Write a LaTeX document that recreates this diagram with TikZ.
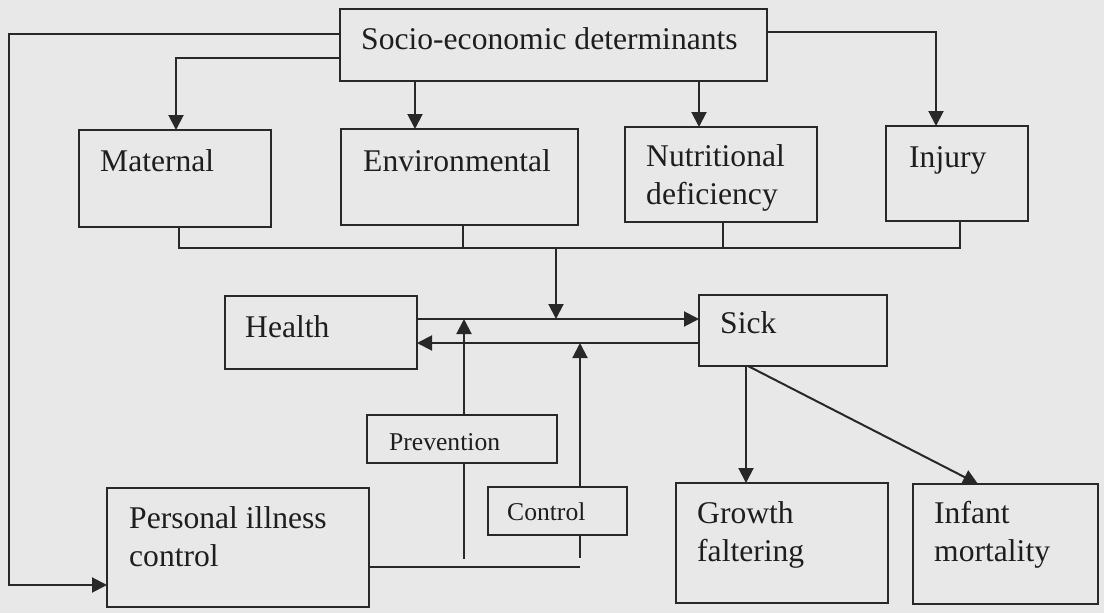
\documentclass[tikz,border=0pt]{standalone}
\usepackage{fontspec}
\setmainfont{Liberation Serif}
\usetikzlibrary{arrows.meta}
\definecolor{bgc}{RGB}{232,232,232}
\definecolor{lnc}{RGB}{40,40,40}
\definecolor{txc}{RGB}{30,30,30}
\begin{document}
\begin{tikzpicture}[x=1pt,y=-1pt,
  box/.style={draw=lnc,line width=2pt,rectangle,inner sep=0pt,outer sep=0pt},
  lbl/.style={anchor=base west,inner sep=0pt,text=txc,font=\fontsize{31.6}{37.5}\selectfont,align=left},
  slbl/.style={anchor=base west,inner sep=0pt,text=txc,font=\fontsize{25.6}{30}\selectfont},
  ln/.style={draw=lnc,line width=2pt},
  arr/.style={ln,-{Triangle[length=15pt,width=15pt]}}]
\fill[bgc] (0,0) rectangle (1104,613);
\useasboundingbox (0,0) rectangle (1104,613);
% boxes
\node[box,minimum width=427pt,minimum height=72pt] (socio) at (553.5,45) {};
\node[box,minimum width=192pt,minimum height=97pt] (mat) at (175,178.5) {};
\node[box,minimum width=237pt,minimum height=96pt] (env) at (459.5,177) {};
\node[box,minimum width=192pt,minimum height=95pt] (nut) at (721,174.5) {};
\node[box,minimum width=142pt,minimum height=95pt] (inj) at (957,173.5) {};
\node[box,minimum width=192pt,minimum height=73pt] (health) at (321,332.5) {};
\node[box,minimum width=188pt,minimum height=71pt] (sick) at (793,330.5) {};
\node[box,minimum width=190pt,minimum height=48pt] (prev) at (462,439) {};
\node[box,minimum width=139pt,minimum height=48pt] (ctrl) at (557.5,511) {};
\node[box,minimum width=262pt,minimum height=119pt] (pic) at (238,547.5) {};
\node[box,minimum width=212pt,minimum height=120pt] (grow) at (782,543) {};
\node[box,minimum width=185pt,minimum height=120pt] (inf) at (1005.5,544) {};
% texts
\node[lbl] (sociot) at (361,49) {Socio-economic determinants};
\node[lbl] (matt) at (100,171) {Maternal};
\node[lbl] (envt) at (363,171) {Environmental};
\node[lbl] (nutt) at (646,204) {Nutritional\\deficiency};
\node[lbl] (injt) at (909,167) {Injury};
\node[lbl] (healtht) at (245,337) {Health};
\node[lbl] (sickt) at (720,333) {Sick};
\node[slbl] (prevt) at (389,450) {Prevention};
\node[slbl] (ctrlt) at (507,520) {Control};
\node[lbl] (pict) at (129,566) {Personal illness\\control};
\node[lbl] (growt) at (697,561) {Growth\\faltering};
\node[lbl] (inft) at (934,561) {Infant\\mortality};
% helper coordinates
\coordinate (lc) at (9,34);
\coordinate (lb) at (9,585);
\coordinate (m1) at (176,58);
\coordinate (e1) at (415,0);
\coordinate (n1) at (699,0);
\coordinate (i1) at (936,32);
\coordinate (k1) at (179,248);
\coordinate (k2) at (463,248);
\coordinate (k3) at (723,248);
\coordinate (k4) at (960,248);
\coordinate (k) at (556,248);
\coordinate (u) at (0,319);
\coordinate (l) at (0,343);
\coordinate (px) at (464,559);
\coordinate (cx) at (580,558);
\coordinate (hy) at (580,567);
\coordinate (gx) at (746,0);
\coordinate (sx) at (748,0);
\coordinate (ix) at (978,0);
% connectors
\draw[arr] (socio.west |- lc) -- (lc) -- (lb) -- (pic.west |- lb);
\draw[arr] (socio.west |- m1) -- (m1) -- (mat.north -| m1);
\draw[arr] (socio.south -| e1) -- (env.north -| e1);
\draw[arr] (socio.south -| n1) -- (nut.north -| n1);
\draw[arr] (socio.east |- i1) -- (i1) -- (inj.north -| i1);
\draw[ln] (mat.south -| k1) -- (k1) -- (k4) -- (inj.south -| k4);
\draw[ln] (env.south -| k2) -- (k2);
\draw[ln] (nut.south -| k3) -- (k3);
\draw[arr] (k) -- (k |- u);
\draw[arr] (health.east |- u) -- (sick.west |- u);
\draw[arr] (sick.west |- l) -- (health.east |- l);
\draw[arr] (prev.north -| px) -- (px |- u);
\draw[ln] (prev.south -| px) -- (px);
\draw[arr] (ctrl.north -| cx) -- (cx |- l);
\draw[ln] (ctrl.south -| cx) -- (cx);
\draw[ln] (pic.east |- hy) -- (hy);
\draw[arr] (sick.south -| gx) -- (grow.north -| gx);
\draw[arr] (sick.south -| sx) -- (inf.north -| ix);
\end{tikzpicture}
\end{document}
